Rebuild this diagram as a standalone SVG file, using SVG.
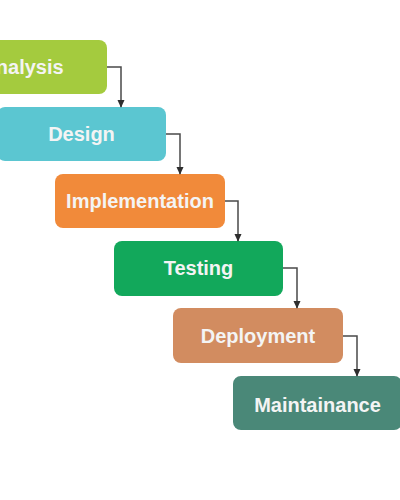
<svg xmlns="http://www.w3.org/2000/svg" width="400" height="500" viewBox="0 0 400 500">
<style>
.box{stroke:none}
.lbl{font-family:"Liberation Sans",Arial,sans-serif;font-weight:bold;font-size:20px;fill:#f4f4f4;text-anchor:middle}
.con{fill:none;stroke:#4a4a4a;stroke-width:1.5}
</style>
<defs>
<marker id="ah" viewBox="0 0 10 10" refX="9" refY="5" markerWidth="8" markerHeight="8" markerUnits="userSpaceOnUse" orient="auto">
<path d="M0,0.5 L10,5 L0,9.5 Z" fill="#2e2e2e"/>
</marker>
</defs>
<rect width="400" height="500" fill="#ffffff"/>
<g id="analysis"><rect class="box" x="-62" y="40" width="169" height="54" rx="8" fill="#a4cb3e"/><text class="lbl" x="22.5" y="74">Analysis</text></g>
<g id="design"><rect class="box" x="-3" y="107" width="169" height="54" rx="8" fill="#5bc6d1"/><text class="lbl" x="81.5" y="141">Design</text></g>
<g id="implementation"><rect class="box" x="55" y="174" width="170" height="54" rx="8" fill="#f18a3a"/><text class="lbl" x="140" y="208">Implementation</text></g>
<g id="testing"><rect class="box" x="114" y="241" width="169" height="55" rx="8" fill="#12a85b"/><text class="lbl" x="198.5" y="275">Testing</text></g>
<g id="deployment"><rect class="box" x="173" y="308" width="170" height="55" rx="8" fill="#d28c60"/><text class="lbl" x="258" y="343">Deployment</text></g>
<g id="maintainance"><rect class="box" x="233" y="376" width="169" height="54" rx="8" fill="#4a8878"/><text class="lbl" x="317.5" y="412">Maintainance</text></g>
<g id="connectors">
<path class="con" marker-end="url(#ah)" d="M107,67 H121 V107"/>
<path class="con" marker-end="url(#ah)" d="M166,134 H180 V174"/>
<path class="con" marker-end="url(#ah)" d="M225,201 H238 V241"/>
<path class="con" marker-end="url(#ah)" d="M283,268 H297 V308"/>
<path class="con" marker-end="url(#ah)" d="M343,336 H357 V376"/>
</g>
</svg>
